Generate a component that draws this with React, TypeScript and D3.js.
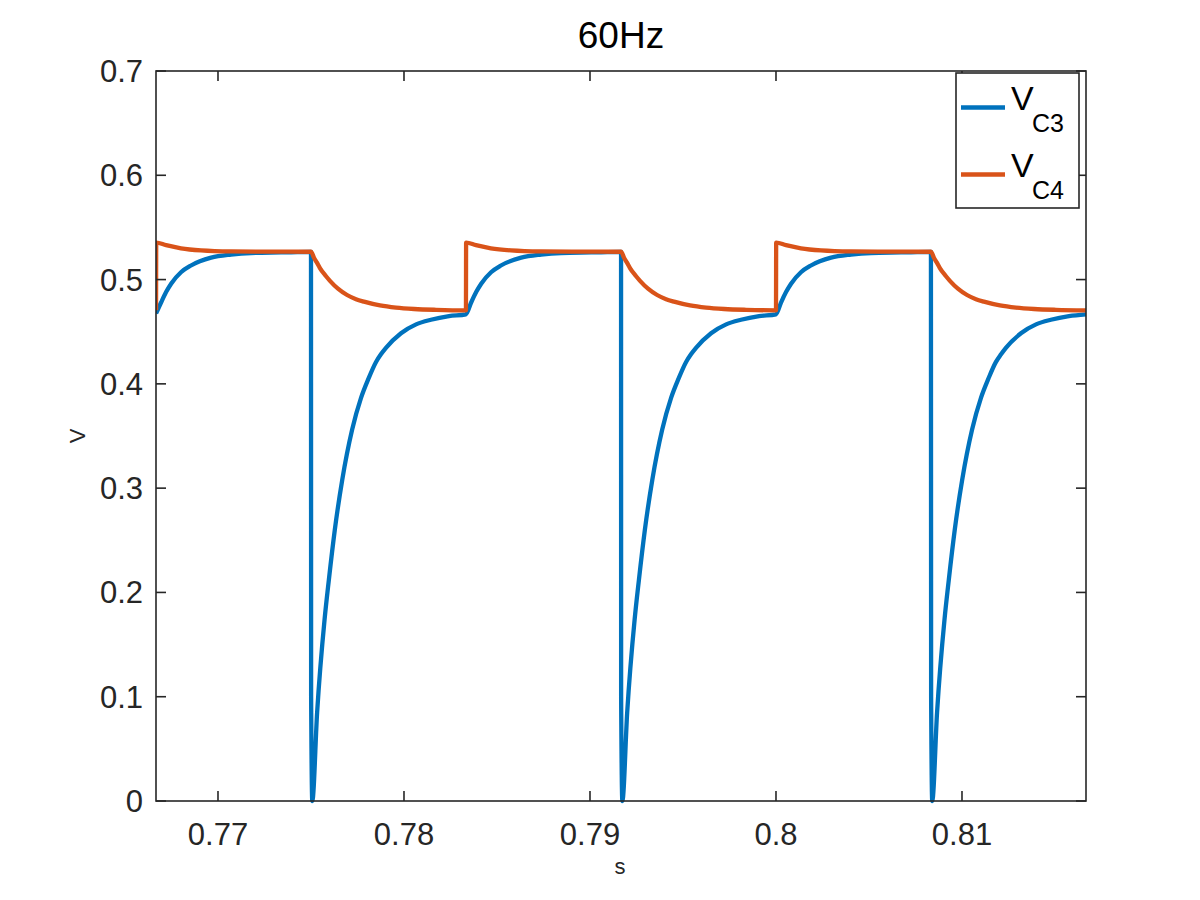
import React from "react";
import * as d3 from "d3";

// ---- data ----
const xTicks = [0.77, 0.78, 0.79, 0.8, 0.81];
const xTickLabels = ["0.77", "0.78", "0.79", "0.8", "0.81"];
const yTicks = [0, 0.1, 0.2, 0.3, 0.4, 0.5, 0.6, 0.7];
const yTickLabels = ["0", "0.1", "0.2", "0.3", "0.4", "0.5", "0.6", "0.7"];
const xDomain = [0.766667, 0.816667];
const yDomain = [0, 0.7];

const seriesNames = ["C3", "C4"];

const vc3Time = [
  0.76667, 0.76694, 0.76721, 0.76748, 0.76801, 0.76855, 0.76963, 0.7707, 0.77178, 0.77339, 0.775,
  0.775007, 0.77507,
  0.77533, 0.77573, 0.77596, 0.77628, 0.77668, 0.77721, 0.77769, 0.77809, 0.77849, 0.77876, 0.77903, 0.77984, 0.78065, 0.78145, 0.78242,
  0.78333, 0.78361, 0.78388, 0.78415, 0.78468, 0.78521, 0.7863, 0.78737, 0.78845, 0.79006, 0.79167,
  0.791674, 0.79174,
  0.792, 0.7924, 0.79263, 0.79295, 0.79335, 0.79388, 0.79436, 0.79476, 0.79516, 0.79543, 0.7957, 0.79651, 0.79732, 0.79812, 0.79909,
  0.8, 0.80027, 0.80054, 0.80081, 0.80134, 0.80188, 0.80296, 0.80403, 0.80511, 0.80672, 0.80833,
  0.80834, 0.8084,
  0.80866, 0.80906, 0.80929, 0.80961, 0.81001, 0.81054, 0.81102, 0.81142, 0.81182, 0.8121, 0.81236, 0.81317, 0.81398, 0.81478, 0.81575, 0.81667,
];
const vc3Value = [
  0.4675, 0.478, 0.488, 0.496, 0.507, 0.5135, 0.521, 0.524, 0.5255, 0.526, 0.5265,
  0.1, 0.0,
  0.085, 0.174, 0.212, 0.26, 0.308, 0.356, 0.3866, 0.405, 0.4208, 0.4283, 0.4345, 0.4485, 0.457, 0.4615, 0.465,
  0.4667, 0.478, 0.488, 0.496, 0.507, 0.5135, 0.521, 0.524, 0.5255, 0.526, 0.5265,
  0.1, 0.0,
  0.085, 0.174, 0.212, 0.26, 0.308, 0.356, 0.3866, 0.405, 0.4208, 0.4283, 0.4345, 0.4485, 0.457, 0.4615, 0.465,
  0.4667, 0.478, 0.488, 0.496, 0.507, 0.5135, 0.521, 0.524, 0.5255, 0.526, 0.5265,
  0.1, 0.0,
  0.085, 0.174, 0.212, 0.26, 0.308, 0.356, 0.3866, 0.405, 0.4208, 0.4283, 0.4345, 0.4485, 0.457, 0.4615, 0.465, 0.4667,
];

const vc4Time = [
  0.76667, 0.76668, 0.76721, 0.76801, 0.76909, 0.7707, 0.77258, 0.775,
  0.77516, 0.77532, 0.77548, 0.77581, 0.77602, 0.77645, 0.77694, 0.77742, 0.77785, 0.77871, 0.77957, 0.78054, 0.78172, 0.78333,
  0.78334, 0.78387, 0.78467, 0.78575, 0.78736, 0.78924, 0.79167,
  0.79183, 0.79199, 0.79215, 0.79248, 0.79269, 0.79312, 0.79361, 0.79409, 0.79452, 0.79538, 0.79624, 0.79721, 0.79839, 0.8,
  0.80001, 0.80054, 0.80134, 0.80242, 0.80403, 0.80591, 0.80833,
  0.80849, 0.80865, 0.80881, 0.80914, 0.80935, 0.80978, 0.81027, 0.81075, 0.81118, 0.81204, 0.8129, 0.81387, 0.81505, 0.81667,
];
const vc4Value = [
  0.4705, 0.5355, 0.533, 0.53, 0.528, 0.527, 0.5268, 0.5267,
  0.521, 0.5162, 0.511, 0.5032, 0.4988, 0.4913, 0.4852, 0.4812, 0.4788, 0.4752, 0.4731, 0.4718, 0.471, 0.4705,
  0.5355, 0.533, 0.53, 0.528, 0.527, 0.5268, 0.5267,
  0.521, 0.5162, 0.511, 0.5032, 0.4988, 0.4913, 0.4852, 0.4812, 0.4788, 0.4752, 0.4731, 0.4718, 0.471, 0.4705,
  0.5355, 0.533, 0.53, 0.528, 0.527, 0.5268, 0.5267,
  0.521, 0.5162, 0.511, 0.5032, 0.4988, 0.4913, 0.4852, 0.4812, 0.4788, 0.4752, 0.4731, 0.4718, 0.471, 0.4705,
];

const COLORS = ["#0072BD", "#D95319"];
const AX = "#262626";
const FONT = "'Liberation Sans', Arial, Helvetica, sans-serif";

export default function App() {
  const left = 156, right = 1086, top = 71, bottom = 801;
  const x = d3.scaleLinear().domain(xDomain).range([left, right]);
  const y = d3.scaleLinear().domain(yDomain).range([bottom, top]);
  const line = d3
    .line<[number, number]>()
    .x((d) => x(d[0]))
    .y((d) => y(d[1]))
    .curve(d3.curveMonotoneX);

  const s3 = vc3Time.map((t, i) => [t, vc3Value[i]] as [number, number]);
  const s4 = vc4Time.map((t, i) => [t, vc4Value[i]] as [number, number]);
  const tickLen = 10;
  const lw = 4.3;

  return (
    <svg
      width={1200}
      height={900}
      style={{ position: "absolute", left: 0, top: 0, background: "#fff" }}
      fontFamily={FONT}
    >
      <rect x={0} y={0} width={1200} height={900} fill="#fff" />
      <defs>
        <clipPath id="plotclip">
          <rect x={left} y={top - 4} width={right - left} height={bottom - top + 8} />
        </clipPath>
      </defs>
      <rect x={left} y={top} width={right - left} height={bottom - top} fill="#fff" />

      <g clipPath="url(#plotclip)">
        <path d={line(s3) || ""} fill="none" stroke={COLORS[0]} strokeWidth={lw} strokeLinejoin="round" />
        <path d={line(s4) || ""} fill="none" stroke={COLORS[1]} strokeWidth={lw} strokeLinejoin="round" />
      </g>

      {/* axes box */}
      <rect x={left} y={top} width={right - left} height={bottom - top} fill="none" stroke={AX} strokeWidth={1.6} />

      {/* x ticks */}
      {xTicks.map((t, i) => (
        <g key={"xt" + i}>
          <line x1={x(t)} x2={x(t)} y1={bottom} y2={bottom - tickLen} stroke={AX} strokeWidth={1.6} />
          <line x1={x(t)} x2={x(t)} y1={top} y2={top + tickLen} stroke={AX} strokeWidth={1.6} />
          <text x={x(t)} y={845} textAnchor="middle" fontSize={31} fill={AX}>
            {xTickLabels[i]}
          </text>
        </g>
      ))}
      {/* y ticks */}
      {yTicks.map((t, i) => (
        <g key={"yt" + i}>
          <line x1={left} x2={left + tickLen} y1={y(t)} y2={y(t)} stroke={AX} strokeWidth={1.6} />
          <line x1={right} x2={right - tickLen} y1={y(t)} y2={y(t)} stroke={AX} strokeWidth={1.6} />
          <text x={143} y={y(t) + 11} textAnchor="end" fontSize={31} fill={AX}>
            {yTickLabels[i]}
          </text>
        </g>
      ))}

      {/* title */}
      <text x={(left + right) / 2} y={48} textAnchor="middle" fontSize={37} fill="#000">
        60Hz
      </text>
      {/* axis labels */}
      <text x={620} y={874} textAnchor="middle" fontSize={22} fill={AX}>
        s
      </text>
      <text transform={`translate(85,436) rotate(-90)`} textAnchor="middle" fontSize={22} fill={AX}>
        V
      </text>

      {/* legend */}
      <rect x={956} y={73} width={123} height={135} fill="#fff" stroke={AX} strokeWidth={1.6} />
      {seriesNames.map((n, i) => (
        <g key={"lg" + i}>
          <line x1={961} x2={1005} y1={107.5 + i * 67} y2={107.5 + i * 67} stroke={COLORS[i]} strokeWidth={lw} />
          <text x={1011} y={110 + i * 67} fontSize={34} fill="#000">
            V
          </text>
          <text x={1032} y={131.5 + i * 67} fontSize={25} fill="#000">
            {n}
          </text>
        </g>
      ))}
    </svg>
  );
}
